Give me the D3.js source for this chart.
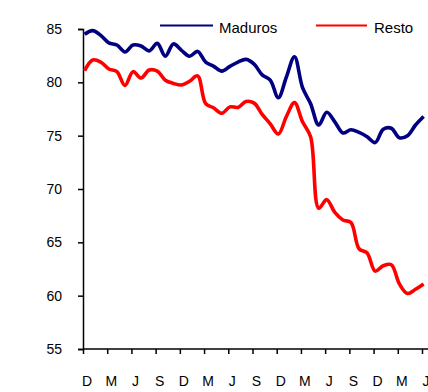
<!DOCTYPE html>
<html><head><meta charset="utf-8">
<script src="https://cdn.jsdelivr.net/npm/d3@7"></script>
<style>body{margin:0;background:#fff}svg{display:block}text{font-family:"Liberation Sans",Arial,sans-serif;fill:#000}</style>
</head><body><svg id="c" width="428" height="392"></svg>
<script>
const tickLabels = ["D","M","J","S","D","M","J","S","D","M","J","S","D","M","J"];
const yTicks = [55,60,65,70,75,80,85];
const seriesNames = ["Maduros","Resto"];
const maduros = [84.5,84.85,84.4,83.7,83.5,82.85,83.5,83.4,82.95,83.65,82.45,83.6,83.0,82.45,82.9,81.9,81.5,81.05,81.5,81.9,82.15,81.7,80.7,80.2,78.55,80.5,82.4,79.5,78.0,76.0,77.2,76.3,75.25,75.55,75.3,74.9,74.35,75.6,75.7,74.8,75.0,76.0,76.8];
const resto = [81.1,82.1,81.9,81.25,81.0,79.7,81.0,80.4,81.15,81.05,80.2,79.9,79.75,80.1,80.6,78.0,77.6,77.1,77.7,77.65,78.2,78.05,77.0,76.1,75.15,76.8,78.1,76.3,74.9,68.2,69.0,67.8,67.1,66.85,64.4,64.0,62.3,62.8,62.9,61.1,60.2,60.6,61.1];

const svg = d3.select("#c");
const x = d3.scaleLinear().domain([0,42]).range([83,422]);
const y = d3.scaleLinear().domain([55,85]).range([349,29]);

// Y axis
const ya = svg.append("g").attr("transform","translate(83,0)")
  .call(d3.axisLeft(y).tickValues(yTicks).tickSize(5).tickPadding(16).tickFormat(d3.format("d")));
ya.select(".domain").attr("stroke","#000").attr("stroke-width",1.5);
ya.selectAll(".tick line").attr("stroke","#000").attr("stroke-width",1.5);
ya.selectAll("text").attr("font-size",14).style("font-family","'Liberation Sans',Arial,sans-serif");

// X axis
const xa = svg.append("g").attr("transform","translate(0,349)")
  .call(d3.axisBottom(x).tickValues(d3.range(0,43,3)).tickSize(5).tickPadding(22)
    .tickFormat((d,i)=>tickLabels[i]));
xa.select(".domain").attr("d","M83,0H428").attr("stroke","#000").attr("stroke-width",1.5);
xa.selectAll(".tick line").attr("stroke","#000").attr("stroke-width",1.5);
xa.selectAll("text").attr("font-size",14).attr("dx",3.5).style("font-family","'Liberation Sans',Arial,sans-serif");

const line = d3.line().x((d,i)=>x(i+0.2)).y(d=>y(d)).curve(d3.curveCatmullRom.alpha(0.5));
const colors = ["#000080","#ff0000"];
[maduros,resto].forEach((s,k)=>{
  svg.append("path").datum(s).attr("d",line).attr("fill","none")
    .attr("stroke",colors[k]).attr("stroke-width",3.6).attr("stroke-linejoin","round");
});

// Legend
const leg = [{x1:160,x2:213,tx:219},{x1:316,x2:367,tx:374}];
leg.forEach((l,k)=>{
  svg.append("line").attr("x1",l.x1).attr("x2",l.x2).attr("y1",25.5).attr("y2",25.5)
    .attr("stroke",colors[k]).attr("stroke-width",2);
  svg.append("text").attr("x",l.tx).attr("y",33).attr("font-size",15).text(seriesNames[k]);
});
</script></body></html>
